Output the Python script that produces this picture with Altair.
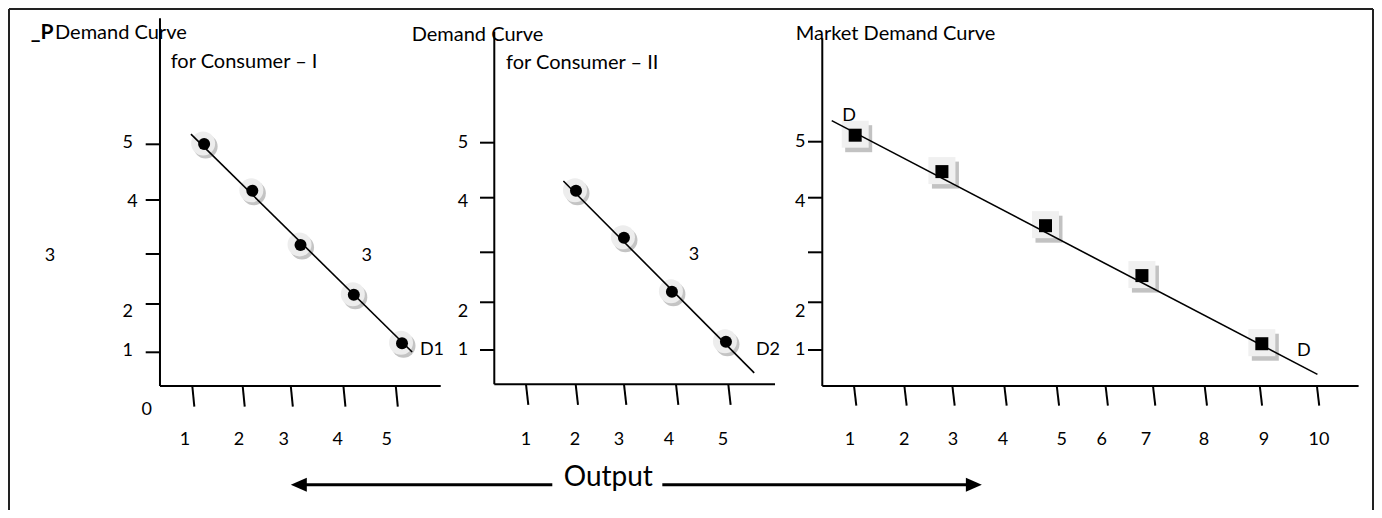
import altair as alt
import pandas as pd

FONT = "Lato"

# ---------------- values ----------------
# Consumer I  (quantity, price)
c1_q = [1.25, 2.2, 3.15, 4.2, 5.15]
c1_p = [5.03, 4.13, 3.09, 2.13, 1.2]
c1_curve_q = [0.99, 5.35]
c1_curve_p = [5.22, 1.03]
c1_xtick_q = [1.017, 2.01, 2.958, 3.995, 5.027]
c1_xlab = ["1", "2", "3", "4", "5"]
c1_xlab_q = [0.873, 1.937, 2.818, 3.883, 4.848]
c1_ytick_p = [5.025, 3.954, 2.915, 1.954, 1.025]
c1_ylab = ["5", "4", "2", "1"]
c1_ylab_q = [-0.254, -0.16, -0.254, -0.254]
c1_ylab_p = [5.05, 3.92, 1.806, 1.056]

# Consumer II
c2_q = [2.01, 2.96, 3.91, 4.98]
c2_p = [4.13, 3.23, 2.19, 1.23]
c2_curve_q = [1.76, 5.54]
c2_curve_p = [4.32, 0.63]
c2_xtick_q = [1.02, 2.004, 2.961, 3.991, 5.027]
c2_xlab = ["1", "2", "3", "4", "5"]
c2_xlab_q = [1.02, 1.99, 2.861, 3.852, 4.921]
c2_ytick_p = [5.056, 3.998, 2.948, 1.987, 1.069]
c2_ylab = ["5", "4", "2", "1"]
c2_ylab_q = [-0.228, -0.228, -0.228, -0.228]
c2_ylab_p = [5.056, 3.92, 1.806, 1.069]

# Market demand
m_q = [1.07, 2.77, 4.8, 6.69, 9.04]
m_p = [5.2, 4.5, 3.46, 2.5, 1.19]
m_curve_q = [0.61, 10.13]
m_curve_p = [5.48, 0.6]
m_xtick_q = [1.047, 2.034, 2.975, 3.994, 5.021, 5.978, 6.907, 7.92, 9.0, 10.12]
m_xlab = ["1", "2", "3", "4", "5", "6", "7", "8", "9", "10"]
m_xlab_q = [0.968, 2.033, 2.987, 3.967, 5.118, 5.902, 6.767, 7.907, 9.083, 10.16]
m_ytick_p = [5.075, 3.998, 2.948, 1.987, 1.069]
m_ylab = ["5", "4", "2", "1"]
m_ylab_q = [-0.006, -0.006, -0.006, -0.006]
m_ylab_p = [5.075, 3.92, 1.806, 1.069]

# free annotations (text, quantity, price)
p1_left_txt = ["Demand Curve", "for Consumer \u2013 I"]
p1_left_q = [-1.689, 0.591]
p1_left_p = [7.175, 6.6]
p1_mid_txt = ["3", "3", "0", "D1"]
p1_mid_q = [-1.788, 4.454, 0.118, 5.741]
p1_mid_p = [2.88, 2.88, -0.09, 1.069]
p1_axis_title = ["_P"]
p1_axis_title_q = [-1.719]
p1_axis_title_p = [7.175]

p2_left_txt = ["Demand Curve", "for Consumer \u2013 II"]
p2_left_q = [-1.244, 0.624]
p2_left_p = [7.127, 6.588]
p2_mid_txt = ["3", "D2"]
p2_mid_q = [4.347, 5.813]
p2_mid_p = [2.896, 1.075]
out_txt = ["Output"]
out_q = [2.65]
out_p = [-1.54]
arrow_from = [1.541, 3.72]
arrow_to = [-3.48, 9.89]
arrow_p = [-1.523, -1.523]

p3_left_txt = ["Market Demand Curve"]
p3_left_q = [-0.096]
p3_left_p = [7.137]
p3_mid_txt = ["D", "D"]
p3_mid_q = [0.949, 9.866]
p3_mid_p = [5.573, 1.046]

# ---------------- scales & axis geometry ----------------
W, H = 1366, 502
YS = alt.Scale(domain=[0, 8], range=[397.6, -18.4], nice=False, zero=False)
XS1 = alt.Scale(domain=[0, 6], range=[132.7, 437.14], nice=False, zero=False)
XS2 = alt.Scale(domain=[0, 6], range=[466.5, 769.44], nice=False, zero=False)
XS3 = alt.Scale(domain=[0, 11], range=[792.6, 1353.82], nice=False, zero=False)

geo1 = dict(ya=0.38, top=7.448, base=0.377, xend=5.913, ytl=0.0985, xtb=-0.021, slant=0.04)
geo2 = dict(ya=0.392, top=7.19, base=0.41, xend=5.952, ytl=0.109, xtb=0.012, slant=0.046)
geo3 = dict(ya=0.425, top=7.063, base=0.377, xend=10.937, ytl=0.145, xtb=0.0, slant=0.045)


def enc_xy(xs):
    return dict(x=alt.X("q:Q", scale=xs, axis=None), y=alt.Y("p:Q", scale=YS, axis=None))


def text_layer(xs, txt, q, p, align="center", size=18, weight="normal", baseline="middle"):
    df = pd.DataFrame({"q": q, "p": p, "t": txt})
    return alt.Chart(df).mark_text(font=FONT, fontSize=size, align=align, baseline=baseline,
                                   fontWeight=weight, color="black").encode(text="t:N", **enc_xy(xs))


def panel(xs, geo, pq, pp, cq, cp, xtq, xl, xlq, ytp, yl, ylq, ylp, marker):
    segs = [(geo["ya"], geo["ya"], geo["base"], geo["top"]),
            (geo["ya"], geo["xend"], geo["base"], geo["base"])]
    segs += [(geo["ytl"], geo["ya"], v, v) for v in ytp]
    segs += [(v, v + geo["slant"], geo["base"], geo["xtb"]) for v in xtq]
    seg_df = pd.DataFrame(segs, columns=["q", "q2", "p", "p2"])
    axes = alt.Chart(seg_df).mark_rule(color="black", strokeWidth=2).encode(
        x2="q2:Q", y2="p2:Q", **enc_xy(xs))

    pts = pd.DataFrame({"q": pq, "p": pp})
    if marker == "circle":
        sh = dict(shape="circle", size=576)
        shadow = alt.Chart(pts).mark_point(filled=True, opacity=1, color="#c4c4c4", strokeWidth=0,
                                           xOffset=1.5, yOffset=2.5, **sh).encode(**enc_xy(xs))
        light = alt.Chart(pts).mark_point(filled=True, opacity=1, color="#ededed", strokeWidth=0,
                                          xOffset=-1, yOffset=-0.5, **sh).encode(**enc_xy(xs))
        dot = alt.Chart(pts).mark_point(filled=True, opacity=1, color="black", strokeWidth=0,
                                        shape="circle", size=144).encode(**enc_xy(xs))
    else:
        sh = dict(shape="square", size=729)
        shadow = alt.Chart(pts).mark_point(filled=True, opacity=1, color="#c2c2c2", strokeWidth=0,
                                           xOffset=3.5, yOffset=3.5, **sh).encode(**enc_xy(xs))
        light = alt.Chart(pts).mark_point(filled=True, opacity=1, color="#f0f0f0", strokeWidth=0,
                                          yOffset=-1, **sh).encode(**enc_xy(xs))
        dot = alt.Chart(pts).mark_point(filled=True, opacity=1, color="black", strokeWidth=0,
                                        shape="square", size=169).encode(**enc_xy(xs))

    curve = alt.Chart(pd.DataFrame({"q": cq, "p": cp})).mark_line(
        color="black", strokeWidth=1.6).encode(**enc_xy(xs))

    xlabs = text_layer(xs, xl, xlq, [-0.662] * len(xl))
    ylabs = text_layer(xs, yl, ylq, ylp)
    return [axes, shadow, light, curve, dot, xlabs, ylabs]


layers1 = panel(XS1, geo1, c1_q, c1_p, c1_curve_q, c1_curve_p, c1_xtick_q, c1_xlab, c1_xlab_q,
                c1_ytick_p, c1_ylab, c1_ylab_q, c1_ylab_p, "circle")
layers1 += [
    text_layer(XS1, p1_left_txt, p1_left_q, p1_left_p, align="left", size=20),
    text_layer(XS1, p1_mid_txt, p1_mid_q, p1_mid_p),
    text_layer(XS1, p1_axis_title, p1_axis_title_q, p1_axis_title_p, align="right", size=21, weight="bold"),
]

layers2 = panel(XS2, geo2, c2_q, c2_p, c2_curve_q, c2_curve_p, c2_xtick_q, c2_xlab, c2_xlab_q,
                c2_ytick_p, c2_ylab, c2_ylab_q, c2_ylab_p, "circle")
arrow_df = pd.DataFrame({"q": arrow_from, "q2": arrow_to, "p": arrow_p})
head_l = pd.DataFrame({"q": [arrow_to[0]], "p": [arrow_p[0]]})
head_r = pd.DataFrame({"q": [arrow_to[1]], "p": [arrow_p[1]]})
layers2 += [
    text_layer(XS2, p2_left_txt, p2_left_q, p2_left_p, align="left", size=20),
    text_layer(XS2, p2_mid_txt, p2_mid_q, p2_mid_p),
    text_layer(XS2, out_txt, out_q, out_p, size=28, baseline="alphabetic"),
    alt.Chart(arrow_df).mark_rule(color="black", strokeWidth=3).encode(x2="q2:Q", **enc_xy(XS2)),
    alt.Chart(head_l).mark_point(shape="M1,-0.875L-1,0L1,0.875Z", size=256, filled=True, opacity=1,
                                 color="black", strokeWidth=0).encode(**enc_xy(XS2)),
    alt.Chart(head_r).mark_point(shape="M-1,-0.875L1,0L-1,0.875Z", size=256, filled=True, opacity=1,
                                 color="black", strokeWidth=0).encode(**enc_xy(XS2)),
]

layers3 = panel(XS3, geo3, m_q, m_p, m_curve_q, m_curve_p, m_xtick_q, m_xlab, m_xlab_q,
                m_ytick_p, m_ylab, m_ylab_q, m_ylab_p, "square")
layers3 += [
    text_layer(XS3, p3_left_txt, p3_left_q, p3_left_p, align="left", size=20),
    text_layer(XS3, p3_mid_txt, p3_mid_q, p3_mid_p),
]

# outer frame (decoration)
frame_src = pd.DataFrame({"k": [0]})
frame = [
    alt.Chart(frame_src).mark_rule(color="#222", strokeWidth=2).encode(
        x=alt.value(1), x2=alt.value(W - 1), y=alt.value(1)),
    alt.Chart(frame_src).mark_rule(color="#222", strokeWidth=2).encode(
        x=alt.value(1), y=alt.value(1), y2=alt.value(H)),
    alt.Chart(frame_src).mark_rule(color="#222", strokeWidth=2).encode(
        x=alt.value(W - 1), y=alt.value(1), y2=alt.value(H)),
]

chart = alt.layer(
    alt.layer(*layers1), alt.layer(*layers2), alt.layer(*layers3), *frame
).resolve_scale(x="independent").properties(
    width=W, height=H, autosize=alt.AutoSizeParams(type="none"), padding=0,
    background="white"
).configure_view(stroke=None)

chart.save("out.html", embed_options={"renderer": "svg", "actions": False})
